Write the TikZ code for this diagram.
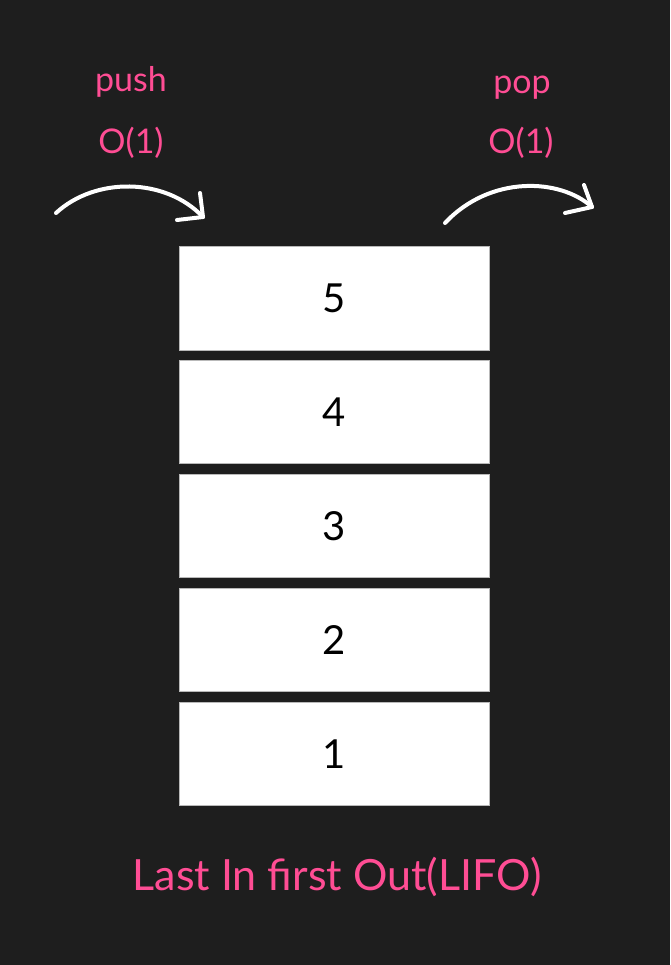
\documentclass[tikz,border=0pt]{standalone}
\usepackage{fontspec}
\setmainfont{Lato}
\definecolor{bg}{RGB}{30,30,30}
\definecolor{hotpink}{RGB}{255,77,148}
\tikzset{
  cell/.style={draw=gray!55, line width=1pt, fill=white, minimum width=310pt, minimum height=103pt, inner sep=0pt, font=\fontsize{40}{44}\selectfont, text=black},
  lbl/.style={text=hotpink, font=\fontsize{34}{40}\selectfont, inner sep=0pt},
  curvearrow/.style={draw=white, line width=4pt, line cap=round, line join=round}
}
\begin{document}
\begin{tikzpicture}[x=1pt,y=-1pt]
\fill[bg] (0,0) rectangle (670,965);
\useasboundingbox (0,0) rectangle (670,965);
% stack cells
\node[cell] (c5) at (334,298.5) {5};
\node[cell] (c4) at (334,412) {4};
\node[cell] (c3) at (334,526) {3};
\node[cell] (c2) at (334,640) {2};
\node[cell] (c1) at (334,754) {1};
% labels
\node[lbl] (push) at (131,82) {push};
\node[lbl] (pushO) at (131,143) {O(1)};
\node[lbl] (pop) at (522,88) {pop};
\node[lbl] (popO) at (521,143) {O(1)};
\node[lbl, font=\fontsize{43}{48}\selectfont] (lifo) at (337,877) {Last In first Out(LIFO)};
% push arrow
\coordinate (ps) at (56,213);
\coordinate (pt) at (203,217);
\coordinate (pa1) at (177,220);
\coordinate (pa2) at (200,193);
\draw[curvearrow] (ps) .. controls (95,177) and (165,177) .. (pt);
\draw[curvearrow] (pa1) -- (pt) -- (pa2);
% pop arrow
\coordinate (os) at (445,223);
\coordinate (ot) at (592,207);
\coordinate (oa1) at (565,213);
\coordinate (oa2) at (584,185);
\draw[curvearrow] (os) .. controls (490,175) and (560,178) .. (ot);
\draw[curvearrow] (oa1) -- (ot) -- (oa2);
\end{tikzpicture}
\end{document}
